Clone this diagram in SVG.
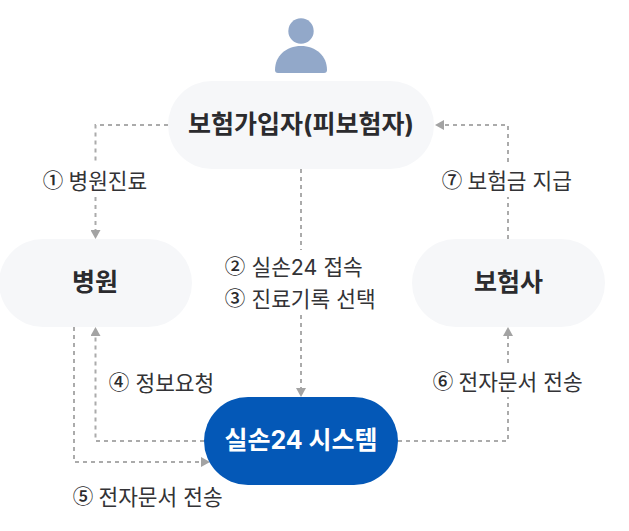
<svg xmlns="http://www.w3.org/2000/svg" width="629" height="531" viewBox="0 0 629 531">
<style>
text{font-family:"Inter","Noto Sans CJK KR","Noto Sans",sans-serif}
.pill{fill:#f6f7f9}
.title{font-size:25px;font-weight:700;fill:#2b2b2e;text-anchor:middle}
.lbl{font-size:21.400px;font-weight:400;fill:#333336}
.n{font-family:"Noto Sans CJK KR",sans-serif;font-size:20.500px;font-weight:500;text-anchor:middle;fill:#2b2b2e}
.c{fill:none;stroke:#ababab;stroke-width:2;stroke-dasharray:4 4}
</style>
<defs>
<marker id="arrow" markerUnits="userSpaceOnUse" markerWidth="10" markerHeight="10" refX="0" refY="5" orient="auto"><path d="M0 0L9 5L0 10Z" fill="#a3a3a3"/></marker>
</defs>
<rect width="629" height="531" fill="#fff"/>
<g id="connectors">
<path class="c" d="M168 125H95.500V162M95.500 197V230" marker-end="url(#arrow)"/>
<path class="c" d="M301 169V250M301 315V388" marker-end="url(#arrow)"/>
<path class="c" d="M508 239V197M508 162V125H444" marker-end="url(#arrow)"/>
<path class="c" d="M204 441H95.500V336" marker-end="url(#arrow)"/>
<path class="c" d="M74 327V462H201" marker-end="url(#arrow)"/>
<path class="c" d="M398 441H508V397M508 363V336" marker-end="url(#arrow)"/>
</g>
<g id="person">
<circle cx="301" cy="31" r="12.700" fill="#92a8c9"/>
<path d="M275 70C275 56 286 46 301 46S327 56 327 70Q327 73 324 73H278Q275 73 275 70Z" fill="#92a8c9"/>
</g>
<g id="node-insured"><rect class="pill" x="168" y="81" width="266" height="88" rx="44"/><text class="title" x="301" y="133">보험가입자(피보험자)</text></g>
<g id="node-hospital"><rect class="pill" x="-1" y="239" width="193" height="88" rx="44"/><text class="title" x="95" y="291">병원</text></g>
<g id="node-insurer"><rect class="pill" x="412" y="239" width="193" height="88" rx="44"/><text class="title" x="508.500" y="291">보험사</text></g>
<g id="node-system"><rect x="204" y="397" width="194" height="88" rx="44" fill="#0458b7"/><text class="title" x="301" y="449" style="fill:#fff">실손24 시스템</text></g>
<g id="labels">
<text class="n" x="53" y="188">①</text><text class="lbl" x="68.500" y="189">병원진료</text>
<text class="n" x="452" y="188">⑦</text><text class="lbl" x="467.500" y="189">보험금 지급</text>
<text class="n" x="235" y="274">②</text><text class="lbl" x="251.500" y="275">실손24 접속</text>
<text class="n" x="235" y="306">③</text><text class="lbl" x="251.500" y="307">진료기록 선택</text>
<text class="n" x="119" y="390">④</text><text class="lbl" x="135.500" y="391">정보요청</text>
<text class="n" x="443" y="389">⑥</text><text class="lbl" x="458.500" y="390">전자문서 전송</text>
<text class="n" x="83" y="504">⑤</text><text class="lbl" x="98.500" y="505">전자문서 전송</text>
</g>
</svg>
